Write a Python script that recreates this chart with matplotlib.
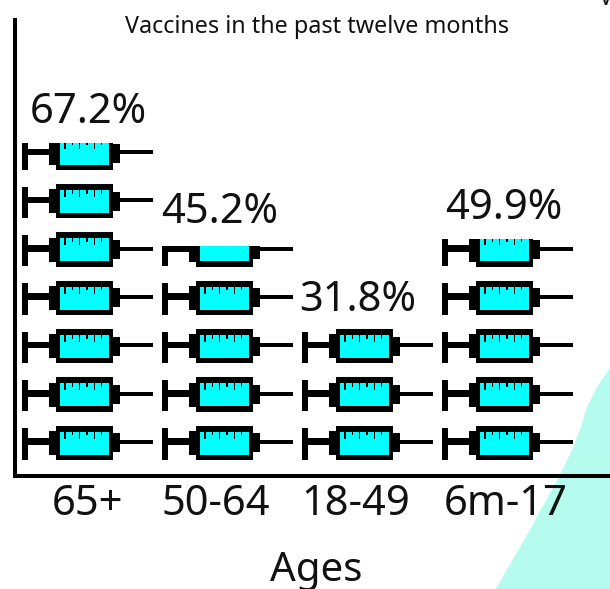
import numpy as np
import matplotlib
matplotlib.use('Agg')
from matplotlib import pyplot as plt
from matplotlib.patches import Rectangle, Polygon

plt.rcParams['font.family'] = ['Noto Sans', 'DejaVu Sans']

ages = ['65+', '50-64', '18-49', '6m-17']
percents = [67.2, 45.2, 31.8, 49.9]
cropLevels = [69.0, 47.6, 32.7, 49.2]

blobX = [495.7, 530, 560, 573, 580, 587, 597, 610, 610]
blobY = [589, 530, 475, 448, 430, 407, 387, 368, 589]

W, H = 610, 589
# pixel layout
x0, x1, yTop, yBase = 14.7, 610, 20, 476.4
catX0 = 88
pxPerPct = 4.83
pxPerCat = 140.0
tickPx = [88, 216, 356, 506]
labelPx = [88, 219.5, 358, 503.5]
labelBasePx = [123, 223, 311, 219]
textCol = '#111111'


def syringeParts():
  # (dx0, dx1, dy0, dy1, colour) around the row centre, in pixels, y going up
  parts = [(-66.3, -60.3, -18, 13.5, 'k'),
           (-60.3, -38.7, -3.3, 3.3, 'k'),
           (-38.7, -32.3, -13.3, 10.7, 'k'),
           (-32.3, 25.3, -18.3, 16, 'k'),
           (25.3, 32.3, -10.7, 8.3, 'k'),
           (32.3, 65.3, -2.3, 1.7, 'k'),
           (-27.7, 21, -13, 10, '#00ffff')]
  for i, tx in enumerate([-23, -15.7, -8.3, -1, 6.3, 13.7]):
    ln = 7 if i % 2 == 0 else 3.5
    parts.append((tx - 0.7, tx + 0.7, 10 - ln, 10, 'k'))
  return parts


def drawSyringe(ax, icat, rowY, clipRect):
  for dx0, dx1, dy0, dy1, col in syringeParts():
    r = Rectangle((icat + dx0/pxPerCat, rowY + dy0/pxPerPct),
                  (dx1 - dx0)/pxPerCat, (dy1 - dy0)/pxPerPct,
                  facecolor=col, edgecolor='none', zorder=3)
    ax.add_patch(r)
    r.set_clip_path(clipRect)


fig = plt.figure(figsize=(W/100, H/100), dpi=100)
fig.patch.set_facecolor('w')

blob = np.array([np.array(blobX)/W, 1 - np.array(blobY)/H]).transpose()
fig.add_artist(Polygon(blob, closed=True, facecolor='#b5fbee', edgecolor='none',
                       transform=fig.transFigure, zorder=0))

ax = fig.add_axes([x0/W, 1 - yBase/H, (x1 - x0)/W, (yBase - yTop)/H])
ax.patch.set_alpha(0)
ax.set_zorder(2)
ax.set_xlim((x0 - catX0)/pxPerCat, (x1 - catX0)/pxPerCat)
ax.set_ylim(0, (yBase - yTop)/pxPerPct)

for s in ['top', 'right']:
  ax.spines[s].set_visible(False)
for s in ['left', 'bottom']:
  ax.spines[s].set_linewidth(2.9)
ax.set_yticks([])
ax.set_xticks([(p - catX0)/pxPerCat for p in tickPx])
ax.set_xticklabels(ages, fontsize=30, color=textCol)
ax.tick_params(axis='x', length=0, pad=5)

fig.text(316.5/W, 1 - 581/H, 'Ages', fontsize=29, ha='center', va='baseline', color=textCol)
fig.text(317/W, 1 - 33/H, 'Vaccines in the past twelve months', fontsize=16.8,
         ha='center', va='baseline', color=textCol)
fig.text(606/W, 1 - 5/H, 'V', fontsize=16.8, ha='center', va='baseline', color=textCol)

rowStart = 7.2
rowStep = 10.0
for icat in range(len(ages)):
  nrow = int(np.ceil(percents[icat]/rowStep))
  clipRect = Rectangle((icat - 0.5, 0), 1, cropLevels[icat], transform=ax.transData)
  for irow in range(nrow):
    drawSyringe(ax, icat, rowStart + irow*rowStep, clipRect)
  fig.text(labelPx[icat]/W, 1 - labelBasePx[icat]/H, f'{percents[icat]}%', fontsize=30,
           ha='center', va='baseline', color=textCol, zorder=5)

plt.savefig('out.png', dpi=100)
